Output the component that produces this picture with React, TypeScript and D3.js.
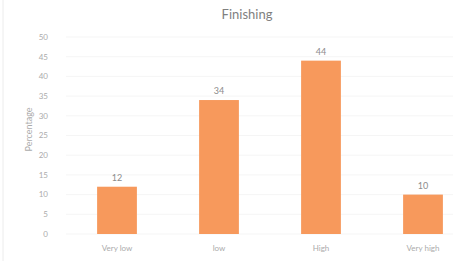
import { useEffect, useRef } from "react";
import * as d3 from "d3";

const categories = ["Very low", "low", "High", "Very high"];
const values = [12, 34, 44, 10];
const yTicks = [0, 5, 10, 15, 20, 25, 30, 35, 40, 45, 50];

const W = 453;
const H = 261;
const M = { top: 37, right: -21, bottom: 27, left: 66 };

export default function App() {
  const svgRef = useRef<SVGSVGElement>(null);

  useEffect(() => {
    if (!svgRef.current) return;
    const innerW = W - M.left - M.right;
    const innerH = H - M.top - M.bottom;

    const root = d3.select(svgRef.current);
    root.selectAll("*").remove();

    root.append("rect").attr("width", W).attr("height", H).attr("fill", "#fff");

    root
      .append("text")
      .attr("x", 247)
      .attr("y", 19)
      .attr("text-anchor", "middle")
      .attr("font-size", 13)
      .attr("fill", "#7f7f7f")
      .text("Finishing");

    const svg = root.append("g").attr("transform", `translate(${M.left},${M.top})`);

    const x = d3.scaleBand().domain(categories).range([0, innerW]).paddingInner(0.61).paddingOuter(0.305);
    const y = d3.scaleLinear().domain([0, 50]).range([innerH, 0]);

    // faint gridlines
    svg
      .append("g")
      .selectAll("line")
      .data(yTicks)
      .join("line")
      .attr("x1", 0)
      .attr("x2", innerW)
      .attr("y1", (d) => y(d))
      .attr("y2", (d) => y(d))
      .attr("stroke", "#f5f5f5")
      .attr("stroke-width", 1);

    svg
      .append("g")
      .selectAll("text")
      .data(yTicks)
      .join("text")
      .attr("x", -18)
      .attr("y", (d) => y(d))
      .attr("dy", "0.35em")
      .attr("text-anchor", "end")
      .attr("font-size", 8)
      .attr("fill", "#ababab")
      .text((d) => d);

    svg
      .selectAll("rect.bar")
      .data(values)
      .join("rect")
      .attr("class", "bar")
      .attr("x", (_, i) => x(categories[i])!)
      .attr("y", (d) => y(d))
      .attr("width", x.bandwidth())
      .attr("height", (d) => innerH - y(d))
      .attr("fill", "#f7995c");

    svg
      .selectAll("text.val")
      .data(values)
      .join("text")
      .attr("class", "val")
      .attr("x", (_, i) => x(categories[i])! + x.bandwidth() / 2)
      .attr("y", (d) => y(d) - 6)
      .attr("text-anchor", "middle")
      .attr("font-size", 9)
      .attr("fill", "#8c8c8c")
      .text((d) => d);

    svg
      .selectAll("text.cat")
      .data(categories)
      .join("text")
      .attr("class", "cat")
      .attr("x", (d) => x(d)! + x.bandwidth() / 2)
      .attr("y", innerH + 17)
      .attr("text-anchor", "middle")
      .attr("font-size", 8)
      .attr("fill", "#ababab")
      .text((d) => d);

    root
      .append("text")
      .attr("transform", `translate(32,${M.top + innerH / 2 - 6}) rotate(-90)`)
      .attr("text-anchor", "middle")
      .attr("font-size", 9)
      .attr("fill", "#ababab")
      .text("Percentage");

    root
      .append("line")
      .attr("x1", 3)
      .attr("x2", 3)
      .attr("y1", 0)
      .attr("y2", H)
      .attr("stroke", "#ececec");
  }, []);

  return (
    <div style={{ position: "fixed", left: 0, top: 0 }}>
      <svg ref={svgRef} width={W} height={H} style={{ display: "block", fontFamily: "Lato, sans-serif" }} />
    </div>
  );
}
